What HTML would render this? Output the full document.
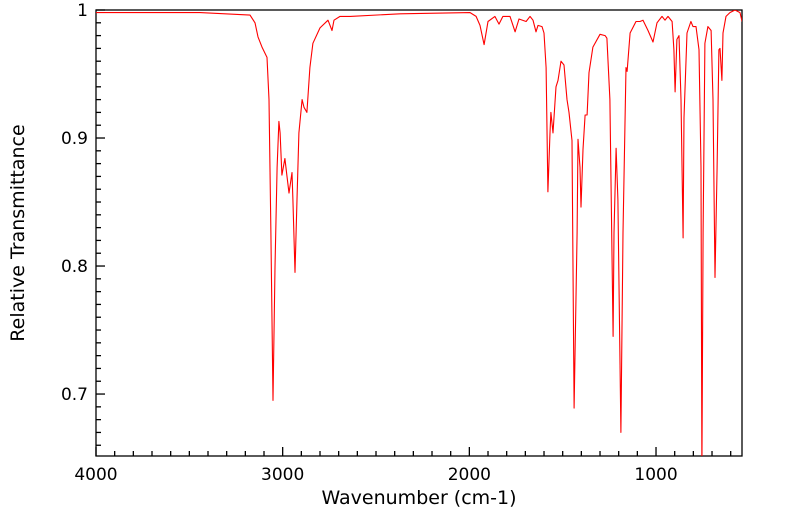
<!DOCTYPE html>
<html><head><meta charset="utf-8"><style>
html,body{margin:0;padding:0;background:#fff;}
svg{display:block;font-family:"DejaVu Sans","Liberation Sans",sans-serif;}
</style></head><body>
<svg id="chart" width="799" height="516" viewBox="0 0 799 516" xmlns="http://www.w3.org/2000/svg">
<defs><clipPath id="clip"><rect x="96" y="10" width="646" height="446"/></clipPath></defs>
<g id="axes"></g>
<g id="series" clip-path="url(#clip)"></g>
<text x="419" y="504" font-size="19" text-anchor="middle">Wavenumber (cm-1)</text>
<text x="0" y="0" font-size="19" text-anchor="middle" transform="translate(24,233) rotate(-90)">Relative Transmittance</text>
</svg>
<script>
const wavenumbers=[4000,3711,3443,3175,3148,3132,3111,3084,3073,3063,3052,3041,3030,3020,3014,3004,2988,2977,2966,2950,2945,2934,2923,2913,2896,2886,2870,2854,2838,2800,2757,2736,2725,2693,2639,2371,1996,1964,1943,1921,1900,1863,1841,1820,1782,1755,1734,1696,1675,1659,1643,1632,1611,1600,1589,1579,1568,1563,1552,1536,1525,1509,1493,1477,1466,1450,1439,1423,1418,1407,1402,1391,1380,1369,1359,1338,1300,1273,1263,1247,1230,1225,1214,1204,1188,1177,1161,1155,1139,1107,1086,1070,1043,1016,995,968,952,936,914,904,898,888,877,866,855,850,834,813,802,786,770,759,754,748,738,722,705,695,684,673,663,657,647,641,625,604,577,550,539];
const transmittance=[0.998,0.998,0.998,0.996,0.990,0.979,0.971,0.963,0.930,0.826,0.695,0.799,0.877,0.913,0.904,0.871,0.884,0.870,0.857,0.873,0.852,0.795,0.852,0.904,0.930,0.924,0.920,0.955,0.974,0.986,0.992,0.984,0.992,0.995,0.995,0.997,0.998,0.995,0.988,0.973,0.991,0.995,0.989,0.995,0.995,0.983,0.993,0.991,0.995,0.992,0.983,0.988,0.987,0.982,0.955,0.858,0.904,0.920,0.904,0.940,0.945,0.960,0.957,0.930,0.920,0.898,0.689,0.826,0.899,0.877,0.846,0.891,0.918,0.918,0.951,0.971,0.981,0.980,0.978,0.930,0.745,0.826,0.892,0.852,0.670,0.826,0.955,0.952,0.982,0.991,0.991,0.992,0.984,0.975,0.990,0.995,0.992,0.995,0.991,0.969,0.936,0.977,0.980,0.930,0.822,0.916,0.982,0.991,0.987,0.987,0.969,0.877,0.640,0.826,0.974,0.987,0.984,0.930,0.791,0.877,0.969,0.970,0.945,0.982,0.995,0.998,1.000,0.998,0.991];
const xTicks=[4000,3000,2000,1000];
const xTickLabels=["4000","3000","2000","1000"];
const yTicks=[1,0.9,0.8,0.7];
const yTickLabels=["1","0.9","0.8","0.7"];
const X0=96,X1=742,Y0=10,Y1=456;
const xMax=4000,xMin=539.4,yMax=1,yMin=0.6516;
function xs(w){return X0+(xMax-w)/(xMax-xMin)*(X1-X0);}
function ys(t){return Y0+(yMax-t)/(yMax-yMin)*(Y1-Y0);}
const NS="http://www.w3.org/2000/svg";
const axes=document.getElementById('axes');
function mk(tag,attrs,parent){const e=document.createElementNS(NS,tag);for(const k in attrs)e.setAttribute(k,attrs[k]);parent.appendChild(e);return e;}
const frame=mk('rect',{x:X0,y:Y0,width:X1-X0,height:Y1-Y0,fill:'none',stroke:'#000','stroke-width':1.3},axes);


for(let w=4000;w>=xMin;w-=100){
  const major=(w%1000===0);
  const t=mk('line',{x1:xs(w),x2:xs(w),y1:Y1,y2:Y1-(major?9:5),stroke:'#000','stroke-width':1.3},axes);
  
  
}
xTicks.forEach((w,i)=>{
  const t=mk('text',{x:xs(w),y:Y1+24,'font-size':17,'text-anchor':'middle'},axes);
  t.textContent=xTickLabels[i];
  
  
});
for(let k=100;k>=66;k--){
  const v=k/100;const major=(k%10===0);
  const t=mk('line',{x1:X0,x2:X0+(major?9:5),y1:ys(v),y2:ys(v),stroke:'#000','stroke-width':1.3},axes);
  
  
}
yTicks.forEach((v,i)=>{
  const t=mk('text',{x:X0-8,y:ys(v)+6,'font-size':17,'text-anchor':'end'},axes);
  t.textContent=yTickLabels[i];
  
  
});
const pts=wavenumbers.map((w,i)=>xs(w).toFixed(1)+','+ys(transmittance[i]).toFixed(1)).join(' ');
const line=mk('polyline',{points:pts,fill:'none',stroke:'#ff0000','stroke-width':1.1,'stroke-linejoin':'round'},document.getElementById('series'));


</script>
</body></html>
